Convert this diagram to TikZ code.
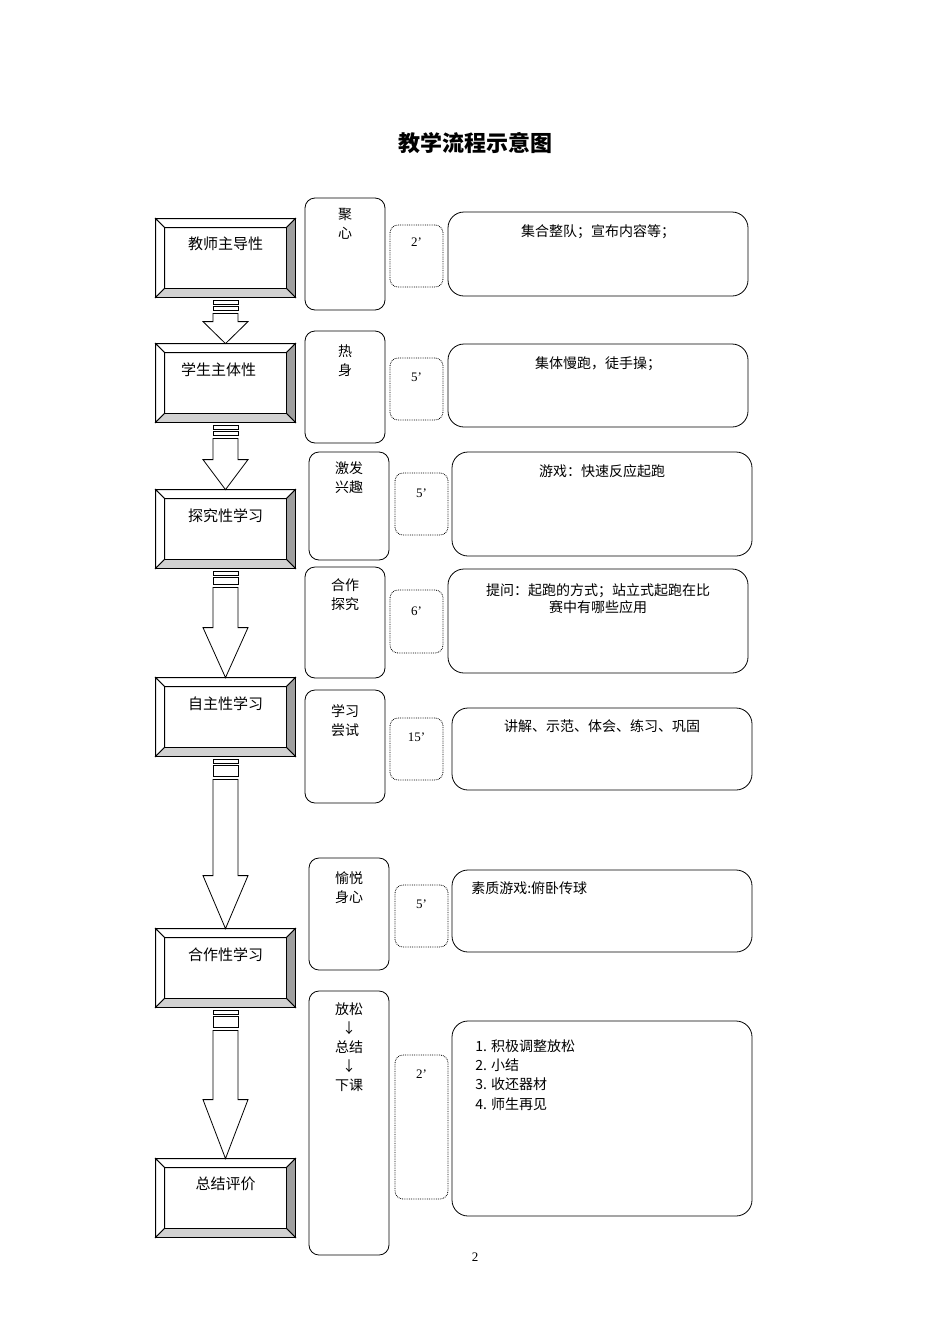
\documentclass[tikz,border=0pt]{standalone}
\usepackage{fontspec}
\setmainfont{Liberation Serif}
\newfontfamily\cjk{Noto Sans CJK SC}
\usetikzlibrary{calc}
\begin{document}
\begin{tikzpicture}[x=1pt,y=-1pt,
  bev/.style={draw,minimum width=139pt,minimum height=78pt,inner sep=0pt},
  btxt/.style={font=\cjk\fontsize{15}{18}\selectfont},
  mid/.style={draw,rounded corners=10pt,inner sep=0pt},
  dot/.style={draw,densely dotted,rounded corners=8pt,inner sep=0pt},
  rbox/.style={draw,rounded corners=16pt,inner sep=0pt},
  ct/.style={font=\cjk\fontsize{14}{19}\selectfont,align=center,anchor=north},
  nt/.style={font=\fontsize{13}{16}\selectfont,anchor=north},
  line width=0.8pt]
\useasboundingbox (0,0) rectangle (950,1344);
\node[font=\cjk\bfseries\fontsize{22}{26}\selectfont] (title) at (475,143) {教学流程示意图};
\node[font=\fontsize{13}{16}\selectfont] (pg) at (475,1257) {2};

\newcommand\bevbox[4]{%
  \node[bev] (#1) at (225.5,#2) {};
  \coordinate (#1o1) at (#1.north west); \coordinate (#1o2) at (#1.north east);
  \coordinate (#1o3) at (#1.south east); \coordinate (#1o4) at (#1.south west);
  \coordinate (#1i1) at ($(#1.north west)+(9,9)$); \coordinate (#1i2) at ($(#1.north east)+(-9,9)$);
  \coordinate (#1i3) at ($(#1.south east)+(-9,-9)$); \coordinate (#1i4) at ($(#1.south west)+(9,-9)$);
  \filldraw[fill=white] (#1o1)--(#1o2)--(#1i2)--(#1i1)--cycle;
  \filldraw[fill=white] (#1o1)--(#1i1)--(#1i4)--(#1o4)--cycle;
  \filldraw[fill=gray!75] (#1o2)--(#1o3)--(#1i3)--(#1i2)--cycle;
  \filldraw[fill=gray!35] (#1o4)--(#1i4)--(#1i3)--(#1o3)--cycle;
  \draw (#1i1) rectangle (#1i3);
  \node[btxt,anchor=north] at ($(#1.north)+(0,15)$) {#3};}
\bevbox{b1}{258}{教师主导性}{}
\bevbox{b2}{383}{\hspace*{-14pt}学生主体性}{}
\bevbox{b3}{529}{探究性学习}{}
\bevbox{b4}{717}{自主性学习}{}
\bevbox{b5}{968}{合作性学习}{}
\bevbox{b6}{1198}{总结评价}{}

\newcommand\barrow[4]{%
  \draw ($(#1.south)+(-12.5,3)$) rectangle ($(#1.south)+(12.5,7)$);
  \draw ($(#1.south)+(-12.5,9)$) rectangle ($(#1.south)+(12.5,9+#3)$);
  \draw ($(#1.south)+(-12.5,12+#3)$) -- ($(#2.north)+(-12.5,-#4)$) -- ($(#2.north)+(-22.5,-#4)$)
     -- (#2.north) -- ($(#2.north)+(22.5,-#4)$) -- ($(#2.north)+(12.5,-#4)$) -- ($(#1.south)+(12.5,12+#3)$) -- cycle;}
\barrow{b1}{b2}{4}{22}
\barrow{b2}{b3}{4}{30}
\barrow{b3}{b4}{7}{50}
\barrow{b4}{b5}{11}{53}
\barrow{b5}{b6}{11}{59}

\newcommand\midbox[6]{\node[mid,minimum width=80pt,minimum height=#4pt] (#1) at (#2,#3) {};
  \node[ct] at ($(#1.north)+(0,#5)$) {#6};}
\midbox{m1}{345}{254}{112}{7}{聚\\心}
\midbox{m2}{345}{387}{112}{10}{热\\身}
\midbox{m3}{349}{506}{108}{6}{激发\\兴趣}
\midbox{m4}{345}{622.5}{111}{8}{合作\\探究}
\midbox{m5}{345}{746.5}{113}{11}{学习\\尝试}
\midbox{m6}{349}{914}{112}{10}{愉悦\\身心}
\midbox{m7}{349}{1123}{264}{8}{放松\\↓\\总结\\↓\\下课}

\newcommand\dbox[6]{\node[dot,minimum width=53pt,minimum height=#4pt] (#1) at (#2,#3) {};
  \node[nt] at ($(#1.north)+(0,#5)$) {#6};}
\dbox{d1}{416.5}{256}{62}{10}{2’}
\dbox{d2}{416.5}{389}{62}{12}{5’}
\dbox{d3}{421.5}{504}{62}{13}{5’}
\dbox{d4}{416.5}{621.5}{63}{14}{6’}
\dbox{d5}{416.5}{749}{62}{12}{15’}
\dbox{d6}{421.5}{916}{62}{12}{5’}
\dbox{d7}{421.5}{1127}{144}{12}{2’}

\newcommand\rb[4]{\node[rbox,minimum width=300pt,minimum height=#4pt] (#1) at (#2,#3) {};}
\rb{r1}{598}{254}{84}
\rb{r2}{598}{385.5}{83}
\rb{r3}{602}{504}{104}
\rb{r4}{598}{621}{104}
\rb{r5}{602}{749}{82}
\rb{r6}{602}{911}{82}
\rb{r7}{602}{1118.5}{195}
\node[ct] at ($(r1.north)+(0,9)$) {集合整队；宣布内容等；};
\node[ct] at ($(r2.north)+(0,9)$) {集体慢跑，徒手操；};
\node[ct] at ($(r3.north)+(0,9)$) {游戏：快速反应起跑};
\node[ct,font=\cjk\fontsize{14}{17}\selectfont] at ($(r4.north)+(0,11)$) {提问：起跑的方式；站立式起跑在比\\赛中有哪些应用};
\node[ct] at ($(r5.north)+(0,8)$) {讲解、示范、体会、练习、巩固};
\node[ct,anchor=north west] at ($(r6.north west)+(16,8)$) {素质游戏:俯卧传球};
\node[ct,anchor=north west,align=left,font=\cjk\fontsize{14}{19.3}\selectfont] at ($(r7.north west)+(20,15)$) {1. 积极调整放松\\2. 小结\\3. 收还器材\\4. 师生再见};
\end{tikzpicture}
\end{document}
